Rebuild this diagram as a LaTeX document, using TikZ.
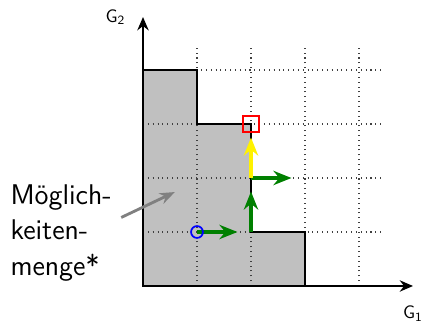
\documentclass[tikz,border=0pt]{standalone}
\usepackage{tikz}
\usetikzlibrary{arrows.meta, positioning, calc}
\definecolor{cGreen}{HTML}{008000}
\definecolor{cFill}{HTML}{C0C0C0}
\definecolor{cPointer}{HTML}{808080}
\tikzset{
  axis/.style={-{Stealth[length=7pt, width=6pt]}, line width=1pt},
  gridline/.style={dotted, black!75, line width=0.55pt},
  region/.style={fill=cFill, draw=black, line width=0.9pt},
  move/.style={-{Stealth[length=9.5pt, width=7.5pt]}, line width=2.1pt, #1},
  move/.default=cGreen,
  pointer/.style={-{Stealth[length=8pt, width=6pt]}, line width=1.5pt, cPointer},
  axislabel/.style={font=\sffamily\fontsize{9.5}{11}\selectfont, inner sep=0pt},
  startmark/.style={circle, draw=blue, line width=0.9pt, minimum size=0.22cm, inner sep=0pt},
  goalmark/.style={rectangle, draw=red, line width=0.9pt, minimum size=0.3cm, inner sep=0pt},
}

\begin{document}
\begin{tikzpicture}

  \useasboundingbox (-2.648,-0.648) rectangle (5.185,5.296);

  % Feasible region
  \fill[cFill] (0,0) -- (0,4) -- (1,4) -- (1,3) -- (2,3) -- (2,1) -- (3,1) -- (3,0) -- cycle;

  % Grid
  \foreach \i in {1,...,4} {
    \draw[gridline] (\i,0) -- (\i,4.4);
    \draw[gridline] (0,\i) -- (4.4,\i);
  }

  \draw[region, fill=none] (0,0) -- (0,4) -- (1,4) -- (1,3) -- (2,3) -- (2,1) -- (3,1) -- (3,0) -- cycle;

  % Axes
  \coordinate (O) at (0,0);
  \coordinate (xend) at (5,0);
  \coordinate (yend) at (0,4.98);
  \draw[axis] (O) -- (xend);
  \draw[axis] (O) -- (yend);
  \node[axislabel, below=0.36cm of xend] (g1) {G\textsubscript{1}};
  \node[axislabel, left=0.32cm of yend] (g2) {G\textsubscript{2}};

  % Steps
  \coordinate (p11) at (1,1);
  \coordinate (p21) at (2,1);
  \coordinate (p22) at (2,2);
  \draw[move] (p11) -- ++(0.75,0) coordinate (s1);
  \draw[move] (p21) -- ++(0,0.75) coordinate (s2);
  \draw[move] (p22) -- ++(0.75,0) coordinate (s3);
  \draw[move=yellow] (p22) -- ++(0,0.75) coordinate (s4);

  \node[startmark] (start) at (p11) {};
  \node[goalmark] (goal) at (2,3) {};

  % Label
  \node[anchor=north west, align=left, inner sep=0pt,
        font=\sffamily\fontsize{15}{18.7}\selectfont] (feasible) at (-2.46,1.89)
    {Möglich-\\keiten-\\menge*};
  \coordinate (inside) at (0.59,1.74);
  \draw[pointer] ([xshift=0.17cm, yshift=0.28cm]feasible.east) -- (inside);

\end{tikzpicture}
\end{document}
